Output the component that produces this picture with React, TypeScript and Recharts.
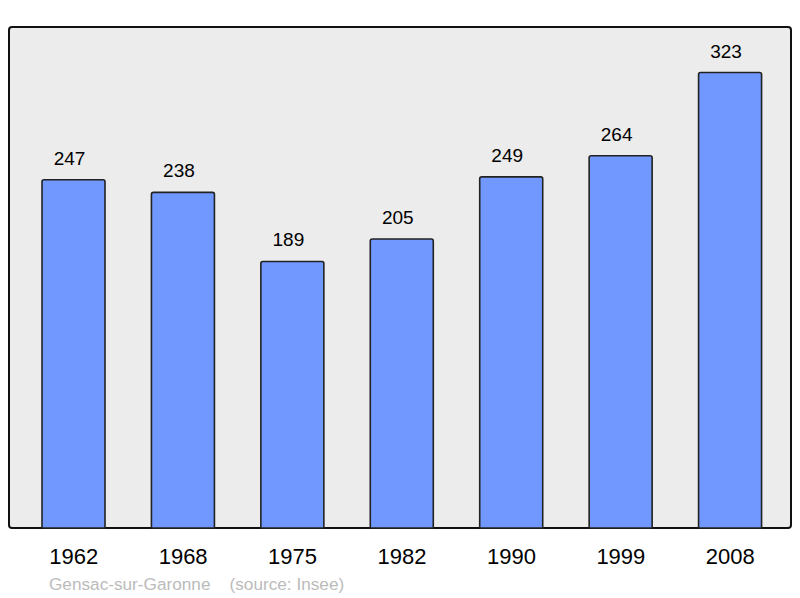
import React from "react";
import { BarChart, Bar, XAxis, YAxis, CartesianGrid, LabelList } from "recharts";

// ── Population data (Insee) ────────────────────────────────────────────────

const YEARS = ["1962", "1968", "1975", "1982", "1990", "1999", "2008"];
const POPULATION = [247, 238, 189, 205, 249, 264, 323];

const data = YEARS.map((year, i) => ({ year, pop: POPULATION[i] }));

const FONT = "'Liberation Sans', Arial, sans-serif";
const Y_MAX = 323 * 1.1;

function YearTick({ x, y, payload }: any) {
  return (
    <text x={x} y={y} dy={28} textAnchor="middle" fontSize={22} fill="#000" fontFamily={FONT}>
      {payload.value}
    </text>
  );
}

function ValueLabel({ x, y, width, value }: any) {
  return (
    <text x={x + width / 2 - 4} y={y - 15} textAnchor="middle" fontSize={19} fill="#000" fontFamily={FONT}>
      {value}
    </text>
  );
}

export default function App() {
  return (
    <div style={{ position: "absolute", left: 0, top: 0, width: 800, height: 598, background: "#fff" }}>
      <div
        style={{
          position: "absolute",
          left: 8,
          top: 26,
          width: 780,
          height: 499,
          border: "2px solid #111",
          borderRadius: 4,
          background: "#ececec",
        }}
      />
      <div style={{ position: "absolute", left: 0, top: 0 }}>
        <BarChart width={800} height={598} data={data} margin={{ top: 27, right: 9, left: 9, bottom: 40 }}>
          <CartesianGrid horizontal={false} vertical={false} />
          <XAxis
            dataKey="year"
            height={30}
            axisLine={false}
            tickLine={false}
            padding={{ left: 10, right: 6 }}
            tick={<YearTick />}
            interval={0}
          />
          <YAxis hide domain={[0, Y_MAX]} />
          <Bar
            dataKey="pop"
            barSize={63}
            fill="#7098ff"
            stroke="#222"
            strokeWidth={1.6}
            radius={[2, 2, 0, 0]}
            isAnimationActive={false}
          >
            <LabelList dataKey="pop" content={<ValueLabel />} />
          </Bar>
        </BarChart>
      </div>
      <div
        style={{
          position: "absolute",
          left: 49,
          top: 574,
          fontFamily: FONT,
          fontSize: 17.2,
          color: "#bbb",
          whiteSpace: "pre",
        }}
      >
        Gensac-sur-Garonne    (source: Insee)
      </div>
    </div>
  );
}
